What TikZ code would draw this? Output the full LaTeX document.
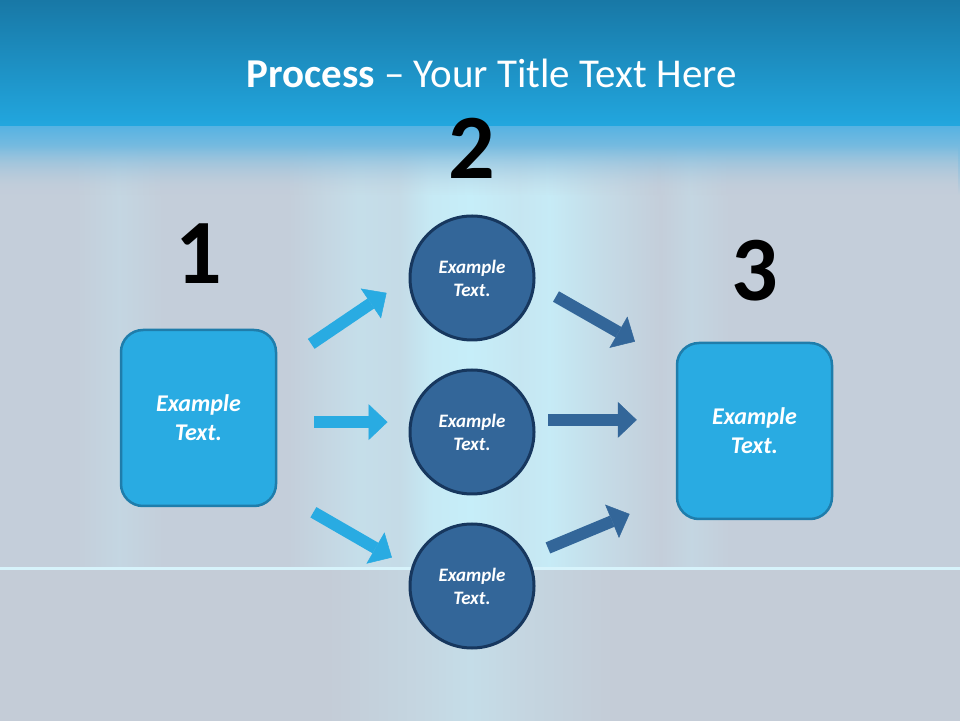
\documentclass[tikz,border=0pt]{standalone}
\usepackage{fontspec}
\setmainfont{Carlito}
\usepackage{xcolor}
\usetikzlibrary{positioning,arrows.meta,fadings}

\definecolor{lightblue}{HTML}{29ABE2}
\definecolor{boxedge}{HTML}{1F7DAB}
\definecolor{darkblue}{HTML}{336699}
\definecolor{navy}{HTML}{17375E}
\definecolor{topblue}{HTML}{1878A6}
\definecolor{bandblue}{HTML}{22A7DF}
\definecolor{fadeblue}{HTML}{58B3E2}
\definecolor{bggrey}{HTML}{C4CEDA}
\definecolor{bglow}{HTML}{C4CCD7}
\definecolor{glow}{HTML}{C6EEF9}

\pgfdeclarehorizontalshading{glowband}{100bp}{%
  color(0bp)=(bggrey); color(29bp)=(bggrey); color(31.2bp)=(glow!25!bggrey);
  color(33.5bp)=(bggrey); color(40bp)=(bggrey); color(43.7bp)=(glow!50!bggrey);
  color(45.8bp)=(glow!40!bggrey); color(47.4bp)=(glow!85!bggrey); color(49.5bp)=(glow);
  color(52.1bp)=(glow!75!bggrey); color(53.6bp)=(glow!90!bggrey); color(56.2bp)=(glow!45!bggrey);
  color(59.4bp)=(bggrey); color(61bp)=(glow!25!bggrey); color(63bp)=(bggrey); color(100bp)=(bggrey)}
\pgfdeclarehorizontalshading{lowband}{100bp}{%
  color(0bp)=(bglow); color(42bp)=(bglow); color(47bp)=(glow!30!bglow);
  color(49.5bp)=(glow!50!bglow); color(52bp)=(glow!30!bglow); color(57bp)=(bglow); color(100bp)=(bglow)}

\begin{document}
\begin{tikzpicture}[%
    x=1pt,y=1pt,node distance=27pt,
    stepbox/.style={%
      rectangle,rounded corners=22pt,minimum width=155pt,minimum height=176pt,
      fill=lightblue,draw=boxedge,line width=2.5pt,text=white,align=center,
      font=\fontsize{24}{29}\selectfont\bfseries\itshape},
    stage/.style={%
      circle,minimum size=124pt,fill=darkblue,draw=navy,line width=3pt,
      text=white,align=center,font=\fontsize{19}{23}\selectfont\bfseries\itshape},
    num/.style={inner sep=0pt,font=\fontsize{92}{92}\selectfont\bfseries},
    inarrow/.style={%
      line width=12pt,lightblue,-{Triangle[length=19pt,width=36pt,line width=0.5pt]}},
    outarrow/.style={inarrow,darkblue}
  ]
    % background
    \shade[shading=glowband] (0,152) rectangle (960,525);
    \shade[top color=topblue,bottom color=bandblue] (0,593) rectangle (960,720);
    \shade[top color=fadeblue,bottom color=bggrey] (0,525) rectangle (960,593);
    \shade[shading=glowband,path fading=north] (0,524) rectangle (960,575);
    \shade[shading=lowband] (0,0) rectangle (960,151);
    \fill[glow!70!white] (0,150.5) rectangle (960,153);

    \node[text=white,font=\fontsize{41}{50}\selectfont,anchor=base] (title) at (491.5,632.3)
      {\textbf{Process} -- Your Title Text Here};

    \node[stage] (mid) at (472,288)  {Example\\Text.};
    \node[stage] (top) [above=of mid] {Example\\Text.};
    \node[stage] (bot) [below=of mid] {Example\\Text.};
    \node[stepbox] (start)  at (198.5,302) {Example\\Text.};
    \node[stepbox] (finish) at (754.5,289) {Example\\Text.};

    \node[num] (one)   [above=45pt of start]  {1};
    \node[num] (two)   [above=36pt of top]    {2};
    \node[num] (three) [above=40pt of finish] {3};

    \draw[inarrow,shorten <=41pt,shorten >=26.5pt] (start.33) -- (top.west);
    \draw[inarrow,shorten <=37pt,shorten >=21pt] (start.-3) -- (start.-3 -| mid.west);
    \draw[inarrow,shorten <=41.7pt,shorten >=22pt] (start.-43) -- (bot.164);
    \draw[outarrow,shorten <=24pt,shorten >=47pt] (top.-6) -- (finish.140);
    \draw[outarrow,shorten <=14pt,shorten >=39pt] (mid.11) -- (mid.11 -| finish.west);
    \draw[outarrow,shorten <=21.5pt,shorten >=50pt] (bot.28) -- (finish.219);
  \end{tikzpicture}
\end{document}
